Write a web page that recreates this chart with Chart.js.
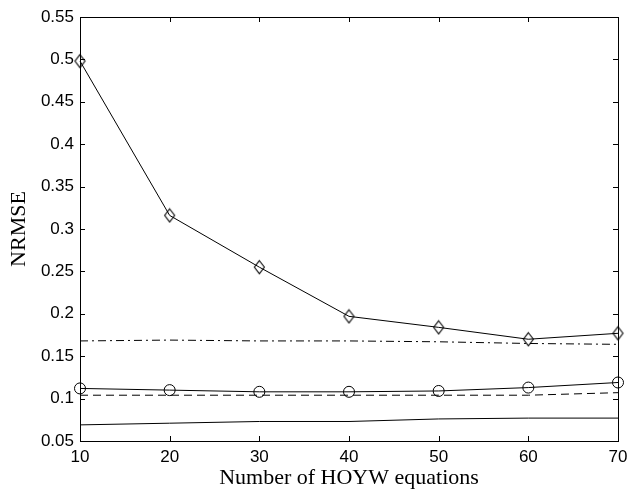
<!DOCTYPE html>
<html>
<head>
<meta charset="utf-8">
<script src="https://cdn.jsdelivr.net/npm/chart.js@4/dist/chart.umd.min.js"></script>
<style>
  html, body { margin: 0; padding: 0; background: #fff; }
  #wrap { width: 629px; height: 489px; }
</style>
</head>
<body>
<div id="wrap"><canvas id="c" width="629" height="489"></canvas></div>
<script>
// ---- data ----
const xValues = [10, 20, 30, 40, 50, 60, 70];
const diamondSeries = [0.498, 0.316, 0.255, 0.197, 0.184, 0.170, 0.177];
const circleSeries  = [0.112, 0.110, 0.108, 0.108, 0.109, 0.113, 0.119];
const dashDotSeries = [0.168, 0.169, 0.168, 0.168, 0.167, 0.165, 0.164];
const dashedSeries  = [0.104, 0.104, 0.104, 0.104, 0.104, 0.104, 0.107];
const solidSeries   = [0.069, 0.071, 0.073, 0.073, 0.076, 0.077, 0.077];
const xTickLabels = ['10', '20', '30', '40', '50', '60', '70'];
const yTickValues = [0.05, 0.1, 0.15, 0.2, 0.25, 0.3, 0.35, 0.4, 0.45, 0.5, 0.55];
const yTickLabels = ['0.05', '0.1', '0.15', '0.2', '0.25', '0.3', '0.35', '0.4', '0.45', '0.5', '0.55'];
const xTitle = 'Number of HOYW equations';
const yTitle = 'NRMSE';

const toPts = arr => arr.map((v, i) => ({ x: xValues[i], y: v }));

// tall diamond marker
const diamond = document.createElement('canvas');
diamond.width = 13; diamond.height = 16;
(function () {
  const g = diamond.getContext('2d');
  g.strokeStyle = '#000';
  g.lineWidth = 1.1;
  g.beginPath();
  g.moveTo(6.5, 1.5);
  g.lineTo(11.5, 8);
  g.lineTo(6.5, 14.5);
  g.lineTo(1.5, 8);
  g.closePath();
  g.stroke();
})();

const frame = {
  id: 'frame',
  afterDraw(chart) {
    const { ctx, chartArea: a, scales } = chart;
    ctx.save();
    ctx.strokeStyle = '#000';
    ctx.lineWidth = 1;
    ctx.strokeRect(Math.round(a.left) + 0.5, Math.round(a.top) + 0.5,
                   Math.round(a.right - a.left), Math.round(a.bottom - a.top));
    const tl = 5;
    ctx.beginPath();
    xValues.forEach(v => {
      const px = Math.round(scales.x.getPixelForValue(v)) + 0.5;
      ctx.moveTo(px, a.bottom); ctx.lineTo(px, a.bottom - tl);
      ctx.moveTo(px, a.top); ctx.lineTo(px, a.top + tl);
    });
    yTickValues.forEach(v => {
      const py = Math.round(scales.y.getPixelForValue(v)) + 0.5;
      ctx.moveTo(a.left, py); ctx.lineTo(a.left + tl, py);
      ctx.moveTo(a.right, py); ctx.lineTo(a.right - tl, py);
    });
    ctx.stroke();
    ctx.restore();
  }
};

const lineBase = { borderColor: '#000', borderWidth: 1, tension: 0, fill: false, clip: false };

new Chart(document.getElementById('c'), {
  type: 'line',
  data: {
    datasets: [
      Object.assign({ label: 'diamond', data: toPts(diamondSeries), pointStyle: diamond, pointRadius: 6,
        pointBorderColor: '#000', pointBackgroundColor: 'rgba(0,0,0,0)' }, lineBase),
      Object.assign({ label: 'circle', data: toPts(circleSeries), pointStyle: 'circle', pointRadius: 5.5,
        pointBorderWidth: 1, pointBorderColor: '#000', pointBackgroundColor: 'rgba(0,0,0,0)' }, lineBase),
      Object.assign({ label: 'dashdot', data: toPts(dashDotSeries), pointRadius: 0, borderDash: [8, 4, 2, 4] }, lineBase),
      Object.assign({ label: 'dashed', data: toPts(dashedSeries), pointRadius: 0, borderDash: [8, 5] }, lineBase),
      Object.assign({ label: 'solid', data: toPts(solidSeries), pointRadius: 0 }, lineBase)
    ]
  },
  options: {
    responsive: false,
    animation: false,
    events: [],
    layout: { padding: { left: 0, right: 11, top: 17, bottom: 0 } },
    plugins: { legend: { display: false }, tooltip: { enabled: false } },
    scales: {
      x: {
        type: 'linear', min: 10, max: 70,
        afterFit(s) { s.height = 48; s.paddingLeft = 0; s.paddingRight = 0; },
        afterBuildTicks(s) { s.ticks = xValues.map(v => ({ value: v })); },
        grid: { display: false, drawTicks: false },
        border: { display: false },
        ticks: {
          color: '#000', padding: 6, maxRotation: 0, autoSkip: false,
          font: { family: '"Liberation Sans", Arial, sans-serif', size: 17 },
          callback: (v) => xTickLabels[xValues.indexOf(v)]
        },
        title: {
          display: true, text: xTitle, color: '#000',
          font: { family: '"Liberation Serif", "Times New Roman", serif', size: 22 },
          padding: { top: 0, bottom: -2 }
        }
      },
      y: {
        type: 'linear', min: 0.05, max: 0.55,
        afterFit(s) { s.width = 80; s.paddingTop = 0; s.paddingBottom = 0; },
        afterBuildTicks(s) { s.ticks = yTickValues.map(v => ({ value: v })); },
        grid: { display: false, drawTicks: false },
        border: { display: false },
        ticks: {
          color: '#000', padding: 6, autoSkip: false,
          font: { family: '"Liberation Sans", Arial, sans-serif', size: 17 },
          callback: (v) => yTickLabels[yTickValues.findIndex(t => Math.abs(t - v) < 1e-9)]
        },
        title: {
          display: true, text: yTitle, color: '#000',
          font: { family: '"Liberation Serif", "Times New Roman", serif', size: 22 },
          padding: { top: 6, bottom: 0 }
        }
      }
    }
  },
  plugins: [frame]
});
</script>
</body>
</html>
